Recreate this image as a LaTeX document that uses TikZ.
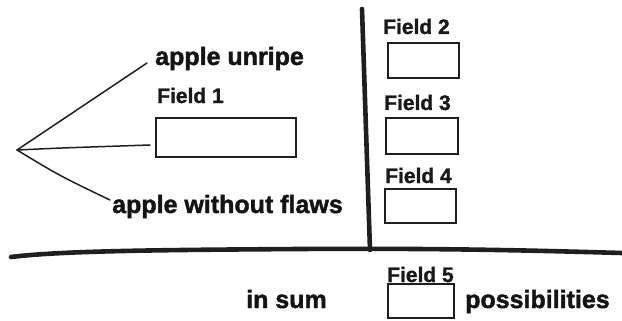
\documentclass[tikz,border=0pt]{standalone}
\usepackage{fontspec}
\setmainfont{Liberation Sans}
\newfontfamily\heavyfont{Liberation Sans Bold}[FakeBold=1.6]
\newfontfamily\fieldfont{Liberation Sans Bold}[FakeBold=1.2]
\begin{document}
\begin{tikzpicture}[x=1pt,y=-1pt,
  ink/.style={draw=black!88},
  biglabel/.style={font=\fontsize{25}{28}\heavyfont, text=black!92, inner sep=0pt, anchor=base west},
  fieldlabel/.style={font=\fontsize{21}{24}\fieldfont, text=black!90, inner sep=0pt, anchor=base west},
  fieldbox/.style={ink, line width=1.8pt, anchor=north west, inner sep=0pt},
  fanline/.style={ink, line width=1.5pt, line cap=round},
  thickline/.style={ink, line width=4.6pt, line cap=round, line join=round}
]
\useasboundingbox (0,0) rectangle (622,321);

% fan
\coordinate (apex) at (17,150);
\coordinate (upend) at (147,63);
\coordinate (midend) at (150,145);
\coordinate (lowend) at (110,200);

\node[biglabel] (unripe) at (155,65) {apple unripe};
\node[fieldlabel] (f1lab) at (157,103) {Field 1};
\node[fieldbox, minimum width=140pt, minimum height=39pt] (f1) at (155,117) {};
\node[biglabel] (flaws) at (112,213) {apple without flaws};

\draw[fanline] (apex) -- (upend);
\draw[fanline] (apex) .. controls (60,148) .. (midend);
\draw[fanline] (apex) .. controls (60,176) .. (lowend);

% divider lines
\coordinate (vtop) at (362,9);
\coordinate (vbot) at (370,250);
\coordinate (hleft) at (11,257);
\coordinate (hmid) at (300,249);
\coordinate (hright) at (622,253);
\draw[thickline] (vtop) -- (vbot);
\draw[thickline] (hleft) .. controls (60,251) and (150,250) .. (hmid)
  .. controls (450,248) and (550,251) .. (hright);

% fields on right
\node[fieldlabel] (f2lab) at (383,34) {Field 2};
\node[fieldbox, minimum width=71pt, minimum height=35pt] (f2) at (387,42) {};
\node[fieldlabel] (f3lab) at (384,110) {Field 3};
\node[fieldbox, minimum width=72pt, minimum height=36pt] (f3) at (385,117) {};
\node[fieldlabel] (f4lab) at (385,183) {Field 4};
\node[fieldbox, minimum width=71pt, minimum height=34pt] (f4) at (384,188) {};

% bottom row
\node[fieldlabel] (f5lab) at (387,282) {Field 5};
\node[fieldbox, minimum width=66pt, minimum height=34pt] (f5) at (387,283) {};
\node[biglabel] (insum) at (246,308) {in sum};
\node[biglabel] (poss) at (465,308) {possibilities};
\end{tikzpicture}
\end{document}
